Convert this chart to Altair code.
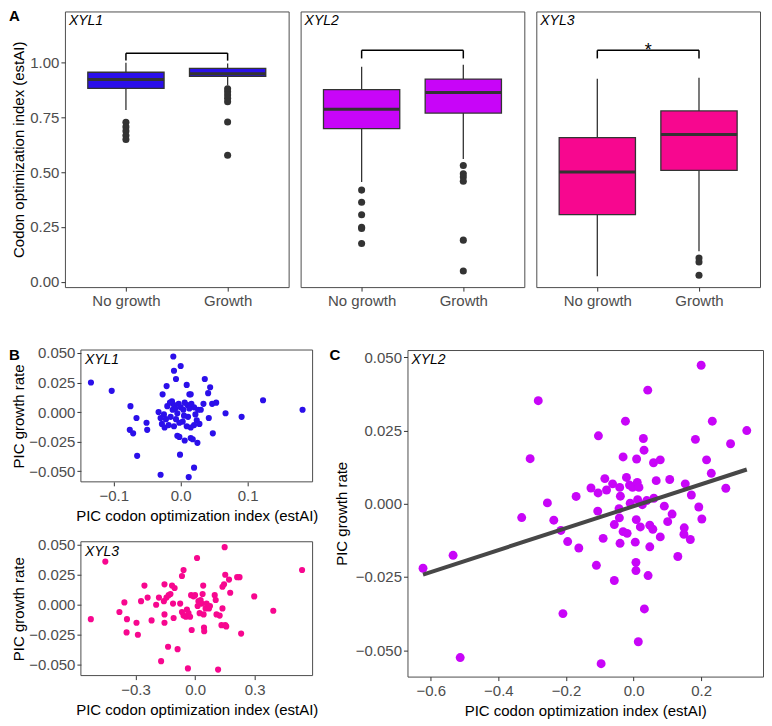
import altair as alt
import pandas as pd

FONT = "Liberation Sans"
LABEL_GRAY = "#4D4D4D"
DARK = "#333333"
BORDER = "#4D4D4D"

# ---------------- data ----------------
genes = ["XYL1", "XYL2", "XYL3"]
gene_colors = ["#2B0FEA", "#C805F8", "#F7078F"]
groups = ["No growth", "Growth"]

# Panel A box summaries
box_gene = ["XYL1", "XYL1", "XYL2", "XYL2", "XYL3", "XYL3"]
box_group = ["No growth", "Growth", "No growth", "Growth", "No growth", "Growth"]
box_lower = [0.783, 0.895, 0.455, 0.560, 0.026, 0.139]
box_q1 = [0.882, 0.936, 0.698, 0.769, 0.306, 0.508]
box_median = [0.922, 0.948, 0.786, 0.863, 0.500, 0.671]
box_q3 = [0.955, 0.973, 0.876, 0.924, 0.657, 0.779]
box_upper = [0.998, 0.995, 0.980, 0.989, 0.925, 0.930]

out_gene = ["XYL1"] * 12 + ["XYL2"] * 12 + ["XYL3"] * 3
out_group = (["No growth"] * 5 + ["Growth"] * 7 + ["No growth"] * 6 + ["Growth"] * 6
             + ["Growth"] * 3)
out_value = [0.727, 0.706, 0.687, 0.667, 0.649,
             0.880, 0.866, 0.851, 0.836, 0.821, 0.728, 0.577,
             0.418, 0.363, 0.306, 0.249, 0.243, 0.175,
             0.530, 0.492, 0.478, 0.458, 0.190, 0.049,
             0.109, 0.090, 0.030]

bracket_top = [1.042, 1.055, 1.055]
bracket_leg = [1.008, 1.018, 1.018]
bracket_label = ["", "", "*"]

# Panel B / C scatter data (PIC estAI, PIC growth rate)
xyl1_x = [-0.134, -0.103, -0.075, -0.066, -0.076, -0.071, -0.065, -0.051, -0.050, -0.033,
          -0.030, -0.027, -0.021, -0.011, -0.010, -0.007, 0.000, -0.001, 0.012, 0.020,
          0.009, 0.013, 0.015, 0.036, 0.044, 0.041, 0.047, 0.053, 0.034, 0.042,
          0.048, 0.067, 0.091, 0.123, 0.182, -0.005, -0.002, 0.006, 0.015, 0.018,
          0.025,
          -0.025, -0.022, -0.028, -0.024, -0.018, -0.015, -0.012, -0.010, -0.013, -0.008,
          -0.005, -0.003, 0.000, 0.004, 0.006, 0.010, 0.013, 0.016, 0.020, 0.022,
          0.024, 0.020, 0.015, 0.009, 0.003, -0.002, -0.020, 0.026, 0.011, -0.007,
          0.030, -0.016, 0.005, -0.030, 0.028, -0.010]
xyl1_y = [0.025, 0.018, 0.005, -0.005, -0.015, -0.018, -0.037, -0.009, -0.015, 0.000,
          -0.053, 0.015, 0.022, 0.047, 0.035, 0.028, 0.039, -0.036, -0.055, -0.047,
          0.023, 0.015, 0.015, 0.028, 0.021, 0.016, 0.007, 0.008, 0.007, -0.005,
          -0.018, -0.001, -0.004, 0.010, 0.002, -0.020, -0.021, -0.024, -0.022, -0.023,
          -0.026,
          -0.002, -0.006, -0.010, -0.013, -0.011, -0.004, 0.002, 0.006, 0.009, 0.003,
          -0.001, 0.007, 0.004, 0.002, 0.008, 0.006, 0.003, 0.007, 0.004, -0.002,
          -0.007, -0.011, -0.013, -0.012, -0.008, -0.009, 0.005, 0.002, -0.004, -0.006,
          0.002, 0.008, -0.003, -0.005, -0.010, -0.012]

xyl3_x = [-0.525, -0.452, -0.381, -0.356, -0.343, -0.345, -0.295, -0.288, -0.272, -0.255,
          -0.239, -0.219, -0.196, -0.182, -0.171, -0.154, -0.157, -0.154, -0.154, -0.144,
          -0.136, -0.133, -0.124, -0.116, -0.111, -0.108, -0.103, -0.088, -0.075, -0.066,
          -0.058, -0.066, -0.058, -0.046, -0.041, -0.036, -0.033, -0.025, -0.017, -0.020,
          -0.008, 0.000, 0.010, 0.013, 0.017, 0.023, 0.028, 0.033, 0.038, 0.041,
          0.043, 0.045, 0.046, 0.053, 0.058, 0.070, 0.075, 0.099, 0.104, 0.108,
          0.116, 0.124, 0.133, 0.138, 0.138, 0.146, 0.149, 0.152, 0.152, 0.157,
          0.171, 0.177, 0.212, 0.224, 0.232, 0.298, 0.394, 0.539]
xyl3_y = [-0.012, 0.036, -0.006, 0.002, -0.012, -0.023, -0.015, -0.025, 0.003, 0.016,
          0.006, -0.013, 0.000, 0.006, -0.047, 0.017, 0.003, -0.008, -0.015, 0.006,
          -0.035, 0.008, 0.009, 0.016, 0.001, -0.011, 0.014, -0.037, 0.001, 0.024,
          0.029, -0.006, -0.009, -0.010, -0.004, -0.053, -0.007, -0.010, -0.021, 0.008,
          0.007, 0.008, 0.039, -0.001, 0.003, -0.007, 0.004, 0.001, 0.009, 0.016,
          -0.008, -0.019, -0.022, -0.003, 0.001, -0.003, -0.001, 0.008, 0.004, -0.008,
          -0.054, -0.009, -0.017, -0.003, 0.015, 0.017, 0.048, 0.025, -0.017, -0.018,
          0.021, 0.010, 0.023, 0.023, -0.024, 0.007, -0.005, 0.029]

xyl2_x = [-0.623, -0.534, -0.513, -0.331, -0.306, -0.282, -0.255, -0.236, -0.215, -0.209,
          -0.195, -0.170, -0.162, -0.126, -0.110, -0.106, -0.104, -0.105, -0.090, -0.085,
          -0.080, -0.096, -0.062, -0.057, -0.057, -0.041, -0.043, -0.042, -0.040, -0.039,
          -0.031, -0.031, -0.024, -0.021, -0.019, -0.012, -0.010, -0.003, 0.005, 0.007,
          0.007, 0.009, 0.011, 0.012, 0.008, 0.014, 0.016, 0.020, 0.026, 0.029,
          0.031, 0.032, 0.039, 0.042, 0.043, 0.048, 0.048, 0.057, 0.059, 0.060,
          0.067, 0.079, 0.079, 0.091, 0.101, 0.107, 0.114, 0.131, 0.153, 0.150,
          0.149, 0.168, 0.171, 0.183, 0.193, 0.200, 0.202, 0.216, 0.230, 0.233,
          0.273, 0.287, 0.335]
xyl2_y = [-0.0220, -0.0176, -0.0525, -0.0047, 0.0154, 0.0352, 0.0003, -0.0056, -0.0091, -0.0375,
          -0.0129, 0.0025, -0.0151, 0.0054, -0.0210, -0.0025, 0.0232, 0.0037, -0.0118, 0.0086,
          0.0047, -0.0546, 0.0068, -0.0262, -0.0071, 0.0056, -0.0017, -0.0048, -0.0135, 0.0026,
          0.0160, -0.0095, 0.0282, 0.0090, -0.0101, 0.0064, 0.0002, 0.0056, -0.0131, -0.0200,
          -0.0228, 0.0153, 0.0073, 0.0014, -0.0054, -0.0471, 0.0056, -0.0079, -0.0003, 0.0223,
          0.0183, -0.0359, 0.0011, 0.0388, -0.0245, -0.0147, -0.0073, -0.0087, 0.0140, 0.0019,
          0.0079, 0.0150, -0.0113, -0.0008, -0.0061, 0.0083, -0.0035, -0.0180, 0.0068, -0.0082,
          -0.0104, -0.0122, 0.0030, 0.0220, -0.0011, 0.0473, -0.0052, 0.0150, 0.0104, 0.0282,
          0.0053, 0.0205, 0.0250]

box_ticks = [0.0, 0.25, 0.5, 0.75, 1.0]
pic_y_ticks = [-0.05, -0.025, 0.0, 0.025, 0.05]
xyl1_x_ticks = [-0.1, 0.0, 0.1]
xyl3_x_ticks = [-0.3, 0.0, 0.3]
xyl2_x_ticks = [-0.6, -0.4, -0.2, 0.0, 0.2]

# ---------------- tables ----------------
box_df = pd.DataFrame({"gene": box_gene, "group": box_group, "lower": box_lower,
                       "q1": box_q1, "median": box_median, "q3": box_q3, "upper": box_upper})
box_df["pos"] = [groups.index(g) + 1 for g in box_df["group"]]
out_df = pd.DataFrame({"gene": out_gene, "group": out_group, "value": out_value})
out_df["pos"] = [groups.index(g) + 1 for g in out_df["group"]]
brk_df = pd.DataFrame({"gene": genes, "top": bracket_top, "leg": bracket_leg,
                       "label": bracket_label})
brk_df["p1"] = 1
brk_df["p2"] = len(groups)

BOX_W = 0.75
A_W, A_H = 224, 276
LBL = 15
X_TITLE = "PIC codon optimization index (estAI)"
Y_TITLE = "PIC growth rate"
label_expr = f"datum.value == 1 ? '{groups[0]}' : '{groups[1]}'"


def letter(t, dx, dy=-2):
    return alt.Chart(pd.DataFrame({"t": [t]})).mark_text(
        align="left", baseline="top", fontWeight="bold", fontSize=15, font=FONT,
        color="black").encode(x=alt.value(dx), y=alt.value(dy), text="t:N")


def gene_label(g, dx=4):
    return alt.Chart(pd.DataFrame({"g": [g]})).mark_text(
        align="left", baseline="top", fontStyle="italic", fontSize=14, font=FONT,
        color="black").encode(x=alt.value(dx), y=alt.value(3), text="g:N")


def box_panel(i):
    gene = genes[i]
    color = gene_colors[i]
    b = box_df[box_df.gene == gene]
    o = out_df[out_df.gene == gene]
    k = brk_df[brk_df.gene == gene]
    xs = alt.Scale(domain=[0.4, 2.6], nice=False, zero=False)
    ys = alt.Scale(domain=[-0.024, 1.232], nice=False, zero=False)
    xax = alt.Axis(values=[1, 2], labelExpr=label_expr, title=None, labelPadding=2)
    if i == 0:
        yax = alt.Axis(values=box_ticks, format=".2f",
                       title="Codon optimization index (estAI)", titlePadding=3)
    else:
        yax = None

    def X(f):
        return alt.X(f, type="quantitative", scale=xs, axis=xax)

    def Y(f):
        return alt.Y(f, type="quantitative", scale=ys, axis=yax)

    base = alt.Chart(b).transform_calculate(
        xl=f"datum.pos - {BOX_W / 2}", xr=f"datum.pos + {BOX_W / 2}")
    wl = base.mark_rule(color=DARK, strokeWidth=1.3).encode(x=X("pos"), y=Y("lower"), y2=alt.Y2("q1"))
    wh = base.mark_rule(color=DARK, strokeWidth=1.3).encode(x=X("pos"), y=Y("q3"), y2=alt.Y2("upper"))
    box = base.mark_rect(fill=color, stroke=DARK, strokeWidth=1.3).encode(
        x=X("xl"), x2=alt.X2("xr"), y=Y("q1"), y2=alt.Y2("q3"))
    med = base.mark_rule(color=DARK, strokeWidth=3).encode(x=X("xl"), x2=alt.X2("xr"), y=Y("median"))
    outl = alt.Chart(o).mark_circle(color=DARK, size=50, opacity=1).encode(x=X("pos"), y=Y("value"))
    kb = alt.Chart(k).transform_calculate(mid="(datum.p1 + datum.p2) / 2")
    h = kb.mark_rule(color="black", strokeWidth=1.5).encode(x=X("p1"), x2=alt.X2("p2"), y=Y("top"))
    l1 = kb.mark_rule(color="black", strokeWidth=1.5).encode(x=X("p1"), y=Y("leg"), y2=alt.Y2("top"))
    l2 = kb.mark_rule(color="black", strokeWidth=1.5).encode(x=X("p2"), y=Y("leg"), y2=alt.Y2("top"))
    star = kb.mark_text(fontSize=18, font=FONT, color="black", baseline="alphabetic", dy=6).encode(
        x=X("mid"), y=Y("top"), text="label:N")
    layers = [wl, wh, box, med, outl, h, l1, l2, star, gene_label(gene)]
    if i == 0:
        layers.append(letter("A", -56))
    return alt.layer(*layers).properties(width=A_W, height=A_H)


def scatter_panel(xv, yv, gene, color, xdom, xticks, w, h, size, let=None, let_x=0,
                  fit=False, off=0, extra=0, ytp=4):
    df = pd.DataFrame({"x": xv, "y": yv})
    xs = alt.Scale(domain=xdom, nice=False, zero=False, range=[off, off + w])
    ys = alt.Scale(domain=[-0.059, 0.0525], nice=False, zero=False)
    xax = alt.Axis(values=xticks, format=".1f", title=X_TITLE, labelPadding=3, titlePadding=5,
                   titleX=off + w / 2)
    yax = alt.Axis(values=pic_y_ticks, format=".3f", title=Y_TITLE, titlePadding=ytp,
                   offset=-off)
    pts = alt.Chart(df).mark_circle(color=color, size=size, opacity=1).encode(
        x=alt.X("x:Q", scale=xs, axis=xax), y=alt.Y("y:Q", scale=ys, axis=yax))
    layers = [pts]
    if fit:
        line = alt.Chart(df).transform_regression("x", "y").mark_line(
            color="#474747", strokeWidth=4).encode(
            x=alt.X("x:Q", scale=xs, axis=xax), y=alt.Y("y:Q", scale=ys, axis=yax))
        layers.append(line)
    if off:
        frame = alt.Chart(pd.DataFrame({"f": [0]})).mark_rect(
            fill="transparent", stroke=BORDER, strokeWidth=1).encode(
            x=alt.value(off), x2=alt.value(off + w), y=alt.value(0), y2=alt.value(h))
        layers.append(frame)
    layers.append(gene_label(gene, off + 4))
    if let:
        layers.append(letter(let, let_x))
    chart = alt.layer(*layers).properties(width=off + w + extra, height=h)
    if off:
        chart = chart.properties(view=alt.ViewBackground(strokeOpacity=0))
    return chart


a_row = alt.hconcat(box_panel(0), box_panel(1), box_panel(2), spacing=10).resolve_scale(
    x="independent", y="independent")

B_OFF, B_W, B_EXTRA = 16, 232, 8
b1 = scatter_panel(xyl1_x, xyl1_y, "XYL1", gene_colors[0], [-0.149, 0.197], xyl1_x_ticks,
                   B_W, 132, 38, "B", -56, off=B_OFF, extra=B_EXTRA, ytp=2)
b3 = scatter_panel(xyl3_x, xyl3_y, "XYL3", gene_colors[2], [-0.575, 0.592], xyl3_x_ticks,
                   B_W, 134, 38, off=B_OFF, extra=B_EXTRA, ytp=2)
b_col = alt.vconcat(b1, b3, spacing=14).resolve_scale(x="independent", y="independent")
c = scatter_panel(xyl2_x, xyl2_y, "XYL2", gene_colors[1], [-0.669, 0.383], xyl2_x_ticks,
                  356, 327, 80, "C", -78, fit=True, ytp=6)
b_row = alt.hconcat(b_col, c, spacing=8).resolve_scale(x="independent", y="independent")

chart = alt.vconcat(a_row, b_row, spacing=36).resolve_scale(
    x="independent", y="independent"
).properties(padding=0, background="white").configure_view(
    stroke=BORDER, strokeWidth=1
).configure_axis(
    labelFont=FONT, titleFont=FONT, labelFontSize=LBL, titleFontSize=15,
    labelColor=LABEL_GRAY, titleColor="black", titleFontWeight="normal",
    tickColor=DARK, tickSize=4, tickWidth=1, domain=False, grid=False,
    labelFlush=False, labelOverlap=False
).configure_text(font=FONT)

chart.save("out.html", embed_options={"renderer": "svg", "actions": False})
